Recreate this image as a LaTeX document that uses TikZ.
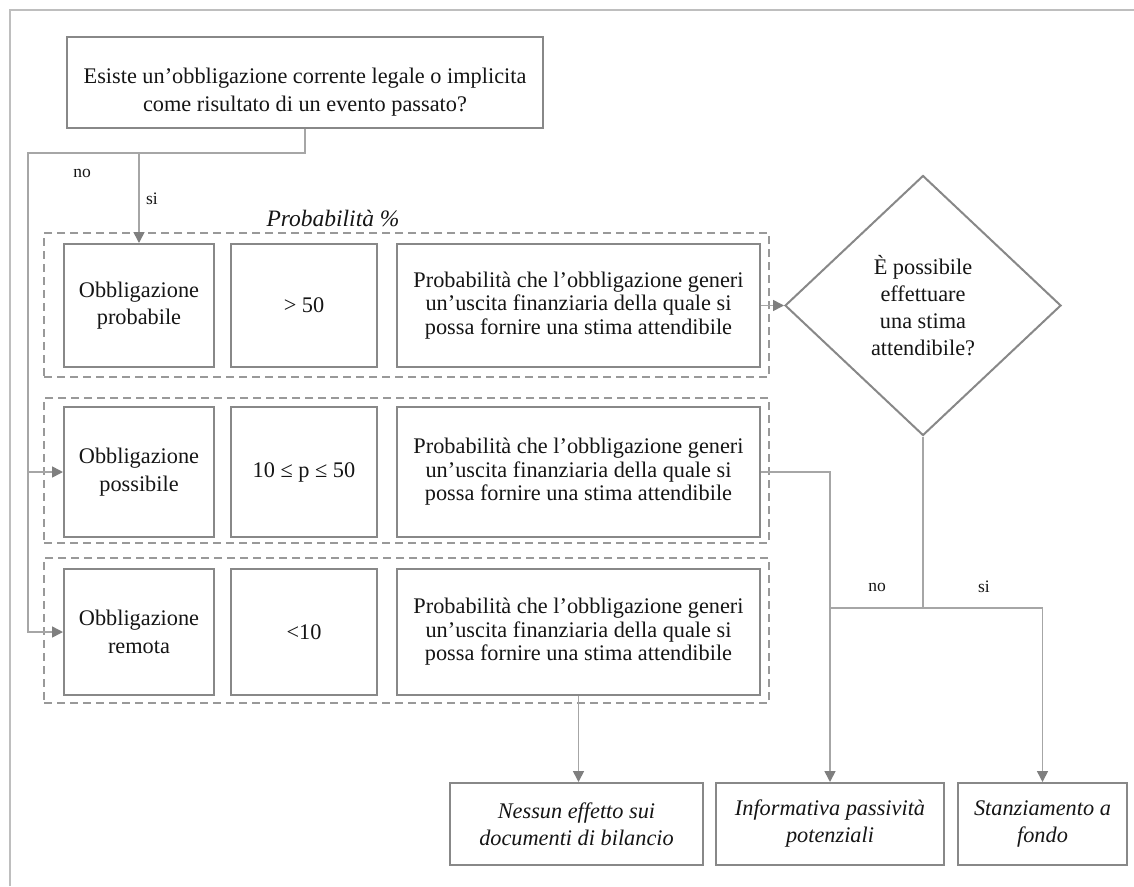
\documentclass[tikz,border=0pt]{standalone}
\usepackage{fontspec}
\setmainfont{Liberation Serif}
\usetikzlibrary{shapes.geometric,arrows.meta}
\definecolor{boxc}{HTML}{888888}
\definecolor{linec}{HTML}{A6A6A6}
\definecolor{arrc}{HTML}{7F7F7F}
\definecolor{dashc}{HTML}{999999}
\definecolor{framec}{HTML}{BEBEBE}
\definecolor{txtc}{HTML}{151515}
\begin{document}
\begin{tikzpicture}[x=1pt,y=-1pt,
  box/.style={draw=boxc,line width=2pt,fill=white,inner sep=0pt,align=center,text=txtc,font=\fontsize{22.3}{27.5}\selectfont},
  longbox/.style={box,font=\fontsize{22.3}{23.5}\selectfont},
  outbox/.style={box,font=\itshape\fontsize{22.3}{27}\selectfont},
  grp/.style={draw=dashc,line width=1.6pt,dash pattern=on 8pt off 5pt,inner sep=0pt},
  conn/.style={draw=linec,line width=1.6pt},
  arr/.style={conn,-{Triangle[length=11pt,width=11pt,color=arrc]}},
  lbl/.style={inner sep=0pt,text=txtc,font=\fontsize{17.5}{20}\selectfont}]
\useasboundingbox (0,0) rectangle (1134,886);
\fill[white] (0,0) rectangle (1134,886);
\draw[framec,line width=2.6pt] (10,886) -- (10,10) -- (1134,10);

% top question
\node[box,minimum width=476pt,minimum height=91pt] (top) at (305,82.5) {};
\node[inner sep=0pt,align=center,text=txtc,font=\fontsize{22.3}{27.5}\selectfont] (toptext) at (305,92)
  {Esiste un’obbligazione corrente legale o implicita\\come risultato di un evento passato?};

% dashed groups
\node[grp,minimum width=725pt,minimum height=144pt] (g1) at (406.5,305) {};
\node[grp,minimum width=725pt,minimum height=145pt] (g2) at (406.5,470.5) {};
\node[grp,minimum width=725pt,minimum height=145pt] (g3) at (406.5,630.5) {};
\node[inner sep=0pt,text=txtc,font=\itshape\fontsize{23.5}{26}\selectfont] (ptitle) at (333,218) {Probabilità \%};

% row 1
\node[box,minimum width=150pt,minimum height=123pt] (r1c1) at (139,305.5) {Obbligazione\\probabile};
\node[box,minimum width=146pt,minimum height=123pt] (r1c2) at (304,305.5) {> 50};
\node[longbox,minimum width=363pt,minimum height=123pt] (r1c3) at (578.5,305.5)
  {Probabilità che l’obbligazione generi\\un’uscita finanziaria della quale si\\possa fornire una stima attendibile};
% row 2
\node[box,minimum width=150pt,minimum height=130pt] (r2c1) at (139,472) {Obbligazione\\possibile};
\node[box,minimum width=146pt,minimum height=130pt] (r2c2) at (304,472) {10 ≤ p ≤ 50};
\node[longbox,minimum width=363pt,minimum height=130pt] (r2c3) at (578.5,472)
  {Probabilità che l’obbligazione generi\\un’uscita finanziaria della quale si\\possa fornire una stima attendibile};
% row 3
\node[box,minimum width=150pt,minimum height=126pt] (r3c1) at (139,632) {Obbligazione\\remota};
\node[box,minimum width=146pt,minimum height=126pt] (r3c2) at (304,632) {<10};
\node[longbox,minimum width=363pt,minimum height=126pt] (r3c3) at (578.5,632)
  {Probabilità che l’obbligazione generi\\un’uscita finanziaria della quale si\\possa fornire una stima attendibile};

% decision
\node[diamond,draw=boxc,line width=2pt,fill=white,inner sep=0pt,align=center,text=txtc,
  font=\fontsize{22.3}{27}\selectfont,minimum width=276pt,minimum height=260pt] (dia) at (923,305.5)
  {È possibile\\effettuare\\una stima\\attendibile?};

% outcomes
\node[outbox,minimum width=253pt,minimum height=82pt] (nes) at (576.5,824) {Nessun effetto sui\\documenti di bilancio};
\node[outbox,minimum width=228pt,minimum height=82pt] (inf) at (830,824) {Informativa passività\\potenziali};
\node[outbox,minimum width=169pt,minimum height=82pt] (st) at (1042.5,824) {Stanziamento a\\fondo};

% connectors
\coordinate (j1) at (305,153);
\coordinate (j2) at (28,153);
\coordinate (h) at (923,608);
\draw[arr] (top.south) -- (j1) -- (j2) |- (r3c1.west);
\draw[arr] (j2 |- r2c1.west) -- (r2c1.west);
\draw[arr] (r1c1.north |- j1) -- (r1c1.north);
\draw[arr] (r1c3.east) -- (dia.west);
\draw[conn] (dia.south) -- (h);
\draw[arr] (r2c3.east) -| (inf.north);
\draw[conn] (inf.north |- h) -- (st.north |- h);
\draw[arr] (st.north |- h) -- (st.north);
\draw[arr] (r3c3.south) -- (r3c3.south |- nes.north);

% labels
\node[lbl] (lno1) at (82,173) {no};
\node[lbl] (lsi1) at (152,199) {si};
\node[lbl] (lno2) at (877,587) {no};
\node[lbl] (lsi2) at (984,587) {si};
\end{tikzpicture}
\end{document}
